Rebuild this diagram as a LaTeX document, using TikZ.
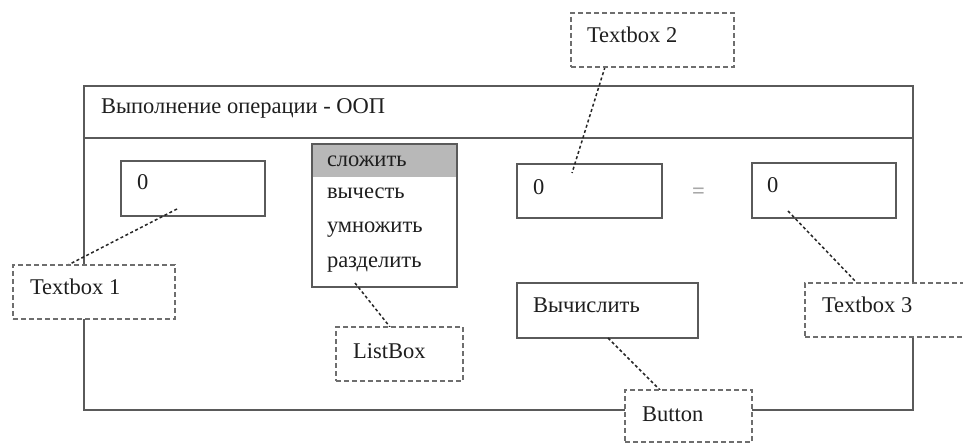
\documentclass[tikz,border=0pt]{standalone}
\usepackage{fontspec}
\setmainfont{Liberation Serif}
\definecolor{frm}{HTML}{5A5A5A}
\definecolor{dsh}{HTML}{6E6E6E}
\definecolor{hl}{HTML}{B8B8B8}
\definecolor{txt}{HTML}{1E1E1E}
\definecolor{eqc}{HTML}{A8A8A8}
\tikzset{
  every node/.style={inner sep=0pt, outer sep=0pt},
  frameline/.style={draw=frm, line width=1.6pt},
  wbox/.style={draw=frm, line width=1.6pt, fill=white, anchor=north west},
  tag/.style={draw=dsh, line width=1.6pt, dash pattern=on 5pt off 3pt, fill=white, anchor=north west},
  lbl/.style={anchor=base west, text=txt, font=\fontsize{22.5}{26}\selectfont},
  link/.style={draw=black!85, line width=1.5pt, dash pattern=on 3pt off 2.5pt}
}
\begin{document}
\begin{tikzpicture}[x=1pt,y=-1pt]
\useasboundingbox (0,0) rectangle (963,446);
\clip (0,0) rectangle (963,446);
% main window frame
\coordinate (fTL) at (84,86);
\coordinate (fTR) at (913,86);
\coordinate (fBL) at (84,410);
\coordinate (fBR) at (913,410);
\draw[frameline] (fTL) -- (fTR) -- (fBR) -- (fBL) -- cycle;
\coordinate (hL) at (84,138);
\coordinate (hR) at (913,138);
\draw[frameline] (hL) -- (hR);
\node[lbl] (title) at (101,114) {Выполнение операции - ООП};
% text box 1
\node[wbox, minimum width=144pt, minimum height=55pt] (b1) at (121,161) {};
\node[lbl] (b1t) at (137,190) {0};
% list box
\fill[hl] (312,144) rectangle (457,177);
\node[draw=frm, line width=1.6pt, anchor=north west, minimum width=145pt, minimum height=143pt] (lb) at (312,144) {};
\node[lbl] (i1) at (327,167) {сложить};
\node[lbl] (i2) at (327,199) {вычесть};
\node[lbl] (i3) at (327,233) {умножить};
\node[lbl] (i4) at (327,268) {разделить};
% text box 2
\node[wbox, minimum width=145pt, minimum height=54pt] (b2) at (517,164) {};
\node[lbl] (b2t) at (533,195) {0};
\node[lbl, text=eqc, font=\fontsize{22.5}{26}\selectfont\bfseries] (eq) at (692,199) {=};
% text box 3
\node[wbox, minimum width=144pt, minimum height=55pt] (b3) at (752,163) {};
\node[lbl] (b3t) at (767,193) {0};
% button
\node[wbox, minimum width=181pt, minimum height=55pt] (btn) at (517,283) {};
\node[lbl] (btnt) at (533,312) {Вычислить};
% connectors
\coordinate (c1a) at (177,209);
\coordinate (c1b) at (68,265);
\coordinate (c2a) at (605,67);
\coordinate (c2b) at (572,173);
\coordinate (c3a) at (355,283);
\coordinate (c3b) at (390,327);
\coordinate (c4a) at (608,338);
\coordinate (c4b) at (660,390);
\coordinate (c5a) at (788,211);
\coordinate (c5b) at (857,283);
\draw[link] (c1a) -- (c1b);
\draw[link] (c2a) -- (c2b);
\draw[link] (c3a) -- (c3b);
\draw[link] (c4a) -- (c4b);
\draw[link] (c5a) -- (c5b);
% callout tags
\node[tag, minimum width=162pt, minimum height=54pt] (t1) at (13,265) {};
\node[lbl] (t1t) at (30,294) {Textbox 1};
\node[tag, minimum width=163pt, minimum height=54pt] (t2) at (571,13) {};
\node[lbl] (t2t) at (587,43) {Textbox 2};
\node[tag, minimum width=165pt, minimum height=54pt] (t3) at (805,283) {};
\node[lbl] (t3t) at (822,312) {Textbox 3};
\node[tag, minimum width=127pt, minimum height=54pt] (t4) at (336,327) {};
\node[lbl] (t4t) at (353,358) {ListBox};
\node[tag, minimum width=127pt, minimum height=52pt] (t5) at (625,390) {};
\node[lbl] (t5t) at (642,421) {Button};
\end{tikzpicture}
\end{document}
